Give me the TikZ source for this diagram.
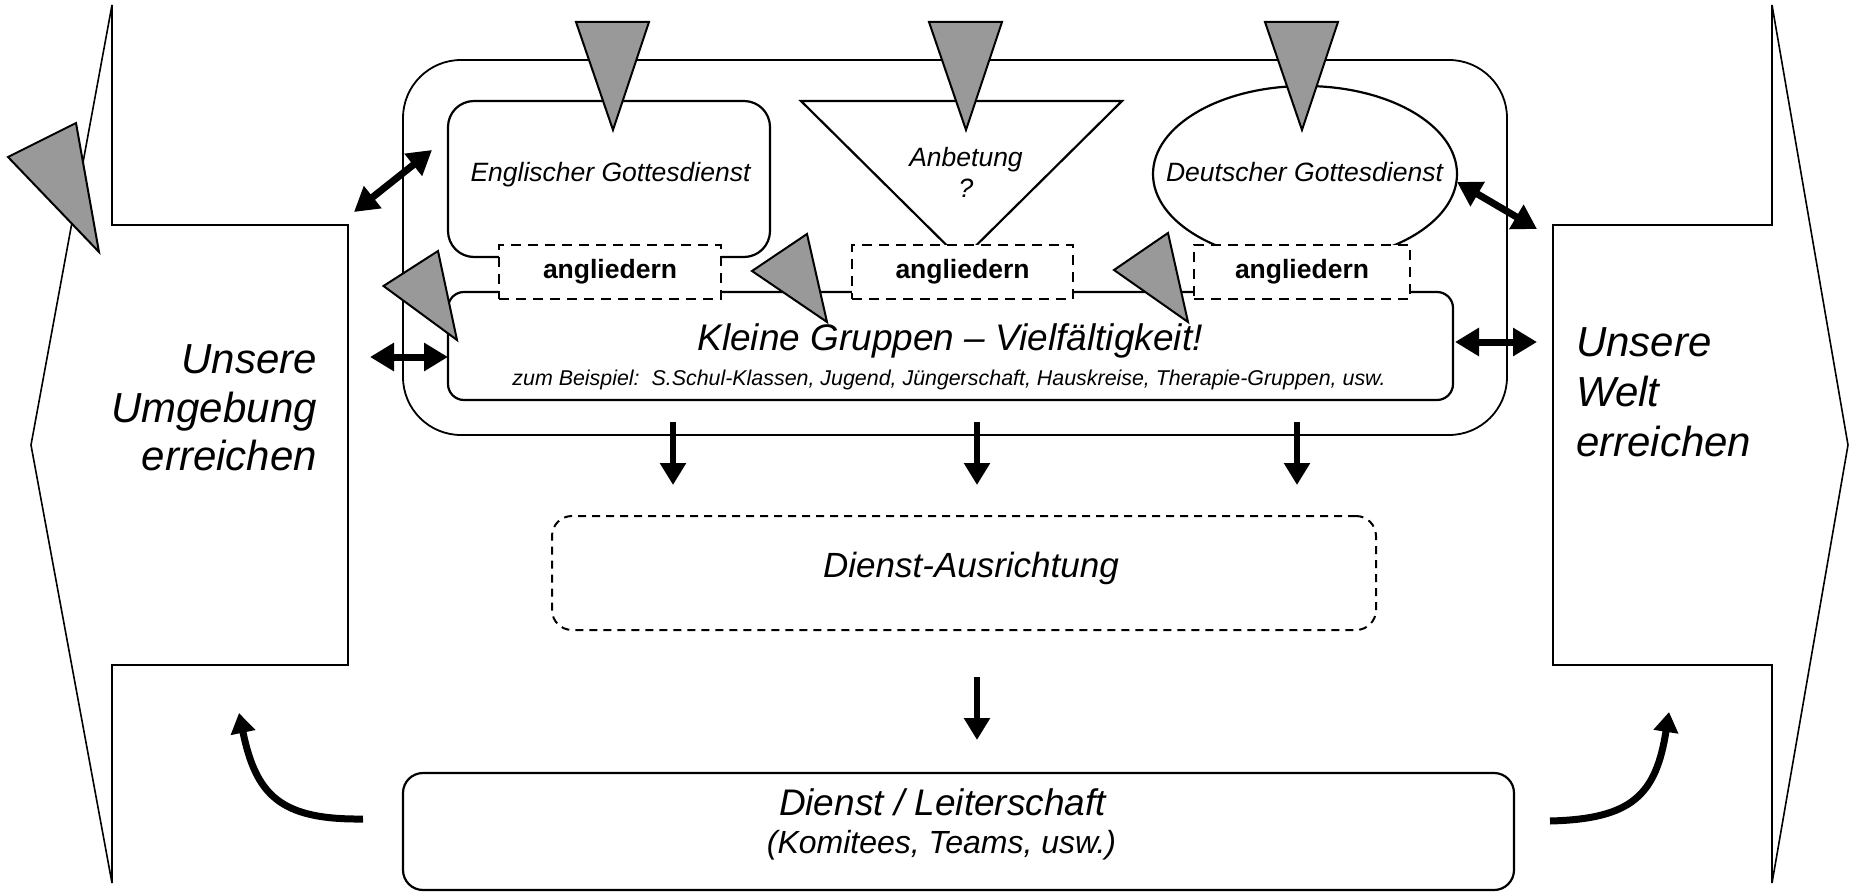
\documentclass[tikz,border=0pt]{standalone}
\usepackage{fontspec}
\setmainfont{Liberation Sans}
\usetikzlibrary{shapes.geometric,arrows.meta,positioning}

\definecolor{markgray}{HTML}{999999}

\tikzset{
  frame/.style={draw, line width=1.6pt},
  roundbox/.style={draw, line width=2.2pt, inner sep=0pt},
  linkbox/.style={draw, fill=white, line width=2pt, dash pattern=on 10pt off 7pt,
    minimum height=54pt, inner sep=0pt, font=\fontsize{26.5}{30}\selectfont\bfseries},
  marker/.style={draw, line width=2pt, fill=markgray, line join=miter},
  flow/.style={line width=6.5pt, -{Triangle[length=22pt,width=25pt]}},
  twoway/.style={line width=7pt, {Triangle[length=24pt,width=27pt]}-{Triangle[length=24pt,width=27pt]}},
  swing/.style={line width=7pt, -{Triangle[length=20pt,width=24pt]}},
  boxtext/.style={font=\fontsize{26.5}{31}\selectfont\itshape, inner sep=0pt},
  bigtext/.style={inner sep=0pt},
}

\begin{document}
\begin{tikzpicture}[x=1pt,y=-1pt]

  \useasboundingbox (0,0) rectangle (1850,893);

  % the two big block arrows
  \draw[frame] (348,225) -- (112,225) -- (112,5) -- (31,445) -- (112,883)
    -- (112,665) -- (348,665) -- cycle;
  \draw[frame] (1553,225) -- (1772,225) -- (1772,5) -- (1848,445) -- (1772,883)
    -- (1772,665) -- (1553,665) -- cycle;

  \node[bigtext, align=right, anchor=east, font=\fontsize{42}{48.5}\selectfont\itshape]
    (umgebung) at (317,408) {Unsere\\Umgebung\\erreichen};
  \node[bigtext, align=left, anchor=west, font=\fontsize{42}{50}\selectfont\itshape]
    (welt) at (1576,392) {Unsere\\Welt\\erreichen};

  %==================================================

  \node[roundbox, line width=1.8pt, rounded corners=58pt, minimum width=1104pt,
    minimum height=375pt] (gemeinde) at (955,247.5) {};

  \node[roundbox, rounded corners=26pt, minimum width=322pt, minimum height=156pt]
    (englisch) at (609,179) {};
  \draw[roundbox] (801,101) coordinate (anb_l) -- (1122,101) coordinate (anb_r)
    -- (961.5,260) coordinate (anb_b) -- cycle;
  \node[roundbox, ellipse, minimum width=304pt, minimum height=176pt]
    (deutsch) at (1305,174) {};

  \node[roundbox, rounded corners=16pt, minimum width=1005pt, minimum height=108pt]
    (kleine) at (950.5,346) {};

  \node[linkbox, minimum width=222pt] (link_1) at (610,272) {angliedern};
  \node[linkbox, minimum width=221pt] (link_2) at (962.5,272) {angliedern};
  \node[linkbox, minimum width=216pt] (link_3) at (1302,272) {angliedern};

  \node[boxtext, anchor=base] (englisch_t) at (610.5,182) {Englischer Gottesdienst};
  \node[boxtext, align=center] (anbetung_t) at (966,172) {Anbetung\\?};
  \node[boxtext, anchor=base] (deutsch_t) at (1304.5,182) {Deutscher Gottesdienst};

  \node[bigtext, anchor=base, font=\fontsize{37}{40}\selectfont\itshape]
    (kleine_t) at (950,350) {Kleine Gruppen – Vielfältigkeit!};
  \node[bigtext, anchor=base, font=\fontsize{21.4}{24}\selectfont\itshape]
    (beispiel_t) at (949,385)
    {zum Beispiel:\ \ S.Schul-Klassen, Jugend, Jüngerschaft, Hauskreise, Therapie-Gruppen, usw.};

  %==================================================

  \node[roundbox, line width=2pt, dash pattern=on 8pt off 6pt, rounded corners=20pt,
    minimum width=824pt, minimum height=114pt] (ausrichtung) at (964,573) {};
  \node[bigtext, anchor=base, font=\fontsize{35}{40}\selectfont\itshape]
    (ausrichtung_t) at (971,577) {Dienst-Ausrichtung};

  \node[roundbox, rounded corners=20pt, minimum width=1111pt, minimum height=117pt]
    (leitung) at (958.5,831.5) {};
  \node[bigtext, anchor=base, font=\fontsize{37}{40}\selectfont\itshape]
    (leitung_t) at (942.5,815) {Dienst / Leiterschaft};
  \node[bigtext, anchor=base, font=\fontsize{32}{36}\selectfont\itshape]
    (teams_t) at (941.5,853) {(Komitees, Teams, usw.)};

  %==================================================

  \coordinate (down_1s) at (673,422);  \coordinate (down_1e) at (673,485);
  \coordinate (down_2s) at (977,422);  \coordinate (down_2e) at (977,485);
  \coordinate (down_3s) at (1297,422); \coordinate (down_3e) at (1297,485);
  \coordinate (down_4s) at (977,677);  \coordinate (down_4e) at (977,740);

  \draw[flow] (down_1s) -- (down_1e);
  \draw[flow] (down_2s) -- (down_2e);
  \draw[flow] (down_3s) -- (down_3e);
  \draw[flow] (down_4s) -- (down_4e);

  \coordinate (left_a) at (354,212);   \coordinate (left_b) at (432,150);
  \coordinate (left_c) at (370,357);   \coordinate (left_d) at (448,357);
  \coordinate (right_a) at (1457,182); \coordinate (right_b) at (1537,229);
  \coordinate (right_c) at (1455,342); \coordinate (right_d) at (1537,342);

  \draw[twoway] (left_a) -- (left_b);
  \draw[twoway] (left_c) -- (left_d);
  \draw[twoway] (right_a) -- (right_b);
  \draw[twoway] (right_c) -- (right_d);

  \coordinate (swing_l) at (363,819);  \coordinate (swing_lt) at (239,713);
  \coordinate (swing_r) at (1550,821); \coordinate (swing_rt) at (1669,712);

  \draw[swing] (swing_l) .. controls (280,820) and (256,795) .. (swing_lt);
  \draw[swing] (swing_r) .. controls (1632,819) and (1656,795) .. (swing_rt);

  %==================================================

  \draw[marker] (576,22) -- (649,22) -- (613,130) -- cycle;
  \draw[marker] (929,22) -- (1002,22) -- (966,130) -- cycle;
  \draw[marker] (1265,22) -- (1338,22) -- (1302,130) -- cycle;
  \draw[marker] (8,157) -- (76,123) -- (99,252) -- cycle;
  \draw[marker] (383.5,286) -- (438,251) -- (457,340) -- cycle;
  \draw[marker] (752,271) -- (807,234) -- (827,322) -- cycle;
  \draw[marker] (1114,270) -- (1168,233) -- (1188,322) -- cycle;

\end{tikzpicture}
\end{document}
